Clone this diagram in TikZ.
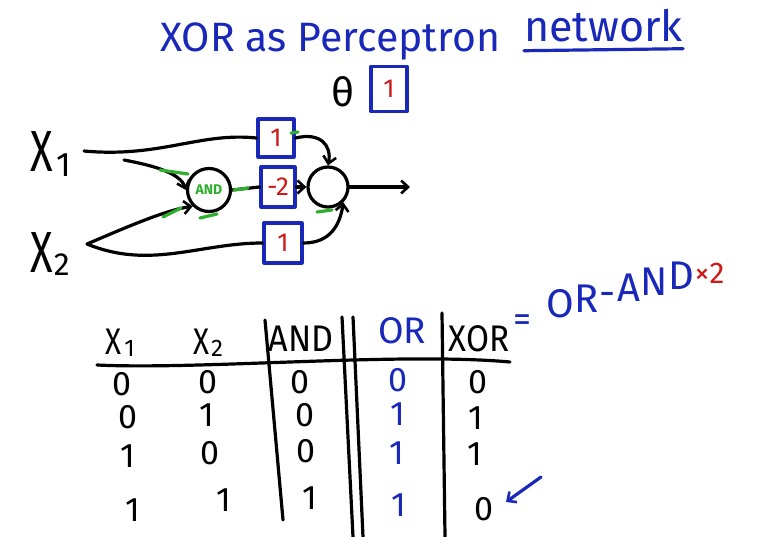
\documentclass[tikz,border=0pt]{standalone}
\usepackage{fontspec}
\setmainfont{Fira Sans}
\usetikzlibrary{arrows.meta,calc}
\definecolor{penblue}{RGB}{25,40,185}
\definecolor{penred}{RGB}{205,25,25}
\definecolor{pengreen}{RGB}{45,175,45}
\begin{document}
\begin{tikzpicture}[x=1pt,y=-1pt, line cap=round, line join=round,
  pen/.style={line width=3.2pt},
  gmark/.style={draw=pengreen, line width=3.2pt},
  wbox/.style={draw=penblue, line width=3.2pt, minimum width=36pt, minimum height=38pt, inner sep=0pt, text=penred, font=\fontsize{26}{26}\selectfont},
  neuron/.style={circle, draw, line width=3.2pt, minimum size=40pt, inner sep=0pt},
  tip/.style={-{Straight Barb[length=7pt,width=13pt,line width=2.6pt]}},
  lbl/.style={font=\fontsize{58}{58}\selectfont, inner sep=0pt},
  hdr/.style={font=\fontsize{37}{37}\selectfont, anchor=base},
  val/.style={font=\fontsize{34}{34}\selectfont, anchor=base},
  eqc/.style={text=penblue, font=\fontsize{40}{40}\selectfont, anchor=base west, inner sep=0pt}]
\useasboundingbox (0,0) rectangle (770,537);

% title
\node[text=penblue, font=\fontsize{41}{41}\selectfont, anchor=base west, inner sep=0pt] (title) at (160,52) {XOR as Perceptron};
\node[text=penblue, font=\fontsize{43}{43}\selectfont, anchor=base west, inner sep=0pt] (net) at (524,42) {network};
\coordinate (u1) at ($(net.south west)+(0,8)$);
\coordinate (u2) at ($(net.south east)+(0,6)$);
\draw[penblue, pen] (u1) -- (u2);

% bias
\node[font=\fontsize{40}{40}\selectfont] (theta) at (343,92) {θ};
\node[wbox, minimum width=36pt, minimum height=45pt] (bias) at (389,89) {1};

% inputs
\node[lbl, anchor=base west] (x1) at (30,172) {\scalebox{0.72}[1]{X}\kern4pt\raisebox{-5pt}{\fontsize{34}{34}\selectfont 1}};
\node[lbl, anchor=base west] (x2) at (30,272) {\scalebox{0.72}[1]{X}\kern1pt\raisebox{-3pt}{\fontsize{32}{32}\selectfont 2}};
\coordinate (x1o) at (84,151);
\coordinate (x2o) at (87,244);

% weights and neurons
\node[wbox] (w1) at (276,138) {1};
\node[wbox, minimum width=34pt, minimum height=40pt] (w2) at (278,187) {-2};
\node[wbox, minimum width=38pt, minimum height=40pt] (w3) at (283,243) {1};
\node[neuron, minimum size=43pt, text=pengreen, font=\fontsize{14}{14}\selectfont\bfseries] (andn) at (209,190) {AND};
\node[neuron] (outn) at (328,187) {};
\coordinate (a1) at (124,160);
\coordinate (yout) at (410,187);

\draw[pen] (x1o) .. controls (160,158) and (200,132) .. (w1.west);
\draw[pen,tip] (a1) .. controls (150,165) and (180,172) .. (andn.west);
\draw[pen,tip] (x2o) .. controls (120,230) and (165,210) .. (andn.south west);
\draw[pen] (x2o) .. controls (150,270) and (200,243) .. (w3.west);
\draw[pen] (andn.east) -- (w2.west);
\draw[pen,tip] (w2.east) -- (outn.west);
\draw[pen,tip] (w1.east) .. controls (320,132) and (332,145) .. (outn.north);
\draw[pen,tip] (w3.east) .. controls (330,243) and (340,225) .. (outn.south east);
\draw[pen,tip] (outn.east) -- (yout);

% green marks
\draw[gmark] (160,170) -- (188,174);
\draw[gmark] (163,217) -- (181,208);
\draw[gmark] (200,218) -- (217,214);
\draw[gmark] (234,190) -- (248,188);
\draw[gmark] (291,133) -- (298,132);
\draw[gmark] (317,212) -- (332,210);

% table lines
\coordinate (hl) at (97,365);
\coordinate (hr) at (510,362);
\draw[pen] (hl) .. controls (200,370) and (400,352) .. (hr);
\coordinate (v1t) at (265,320); \coordinate (v1b) at (283,520);
\coordinate (v2t) at (342,317); \coordinate (v2b) at (353,537);
\coordinate (v3t) at (353,317); \coordinate (v3b) at (363,537);
\coordinate (v4t) at (442,313); \coordinate (v4b) at (445,537);
\draw[pen] (v1t) -- (v1b);
\draw[pen] (v2t) -- (v2b);
\draw[pen] (v3t) -- (v3b);
\draw[pen] (v4t) -- (v4b);

% headers
\node[hdr] (h1) at (120,354) {\scalebox{0.8}[1]{X}\kern3pt\raisebox{-2pt}{\fontsize{24}{24}\selectfont 1}};
\node[hdr] (h2) at (208,354) {\scalebox{0.8}[1]{X}\kern2pt\raisebox{-2pt}{\fontsize{24}{24}\selectfont 2}};
\node[hdr] (h3) at (301,351) {\scalebox{0.92}[1]{AND}};
\node[hdr, text=penblue] (h4) at (402,343) {OR};
\node[hdr] (h5) at (479,351) {\scalebox{0.9}[1]{XOR}};

% values
\node[val] (r11) at (122,395) {0};
\node[val] (r12) at (208,393) {0};
\node[val] (r13) at (300,393) {0};
\node[val, text=penblue] (r14) at (398,391) {0};
\node[val] (r15) at (478,393) {0};

\node[val] (r21) at (128,428) {0};
\node[val] (r22) at (207,426) {1};
\node[val] (r23) at (305,426) {0};
\node[val, text=penblue] (r24) at (398,425) {1};
\node[val] (r25) at (476,429) {1};

\node[val] (r31) at (128,467) {1};
\node[val] (r32) at (210,464) {0};
\node[val] (r33) at (306,462) {0};
\node[val, text=penblue] (r34) at (397,464) {1};
\node[val] (r35) at (475,465) {1};

\node[val] (r41) at (133,521) {1};
\node[val] (r42) at (224,511) {1};
\node[val] (r43) at (310,509) {1};
\node[val, text=penblue] (r44) at (399,516) {1};
\node[val] (r45) at (484,520) {0};

\coordinate (bs) at (541,477);
\coordinate (be) at (506,502);
\draw[penblue, pen, tip] (bs) -- (be);

% equation, written with a rising baseline
\node[eqc, font=\fontsize{36}{36}\selectfont] (eq0) at (513,331) {=};
\node[eqc] (eq1) at (546,317) {O};
\node[eqc] (eq2) at ($(eq1.base east)+(0,-5)$) {R};
\node[eqc] (eq3) at ($(eq2.base east)+(1,-6)$) {-};
\node[eqc] (eq4) at ($(eq3.base east)+(1,-5)$) {A};
\node[eqc] (eq5) at ($(eq4.base east)+(0,-6)$) {N};
\node[eqc] (eq6) at ($(eq5.base east)+(0,-6)$) {D};
\node[text=penred, font=\fontsize{30}{30}\selectfont, anchor=base west, inner sep=0pt] (times) at ($(eq6.base east)+(0,-6)$) {×2};
\end{tikzpicture}
\end{document}
